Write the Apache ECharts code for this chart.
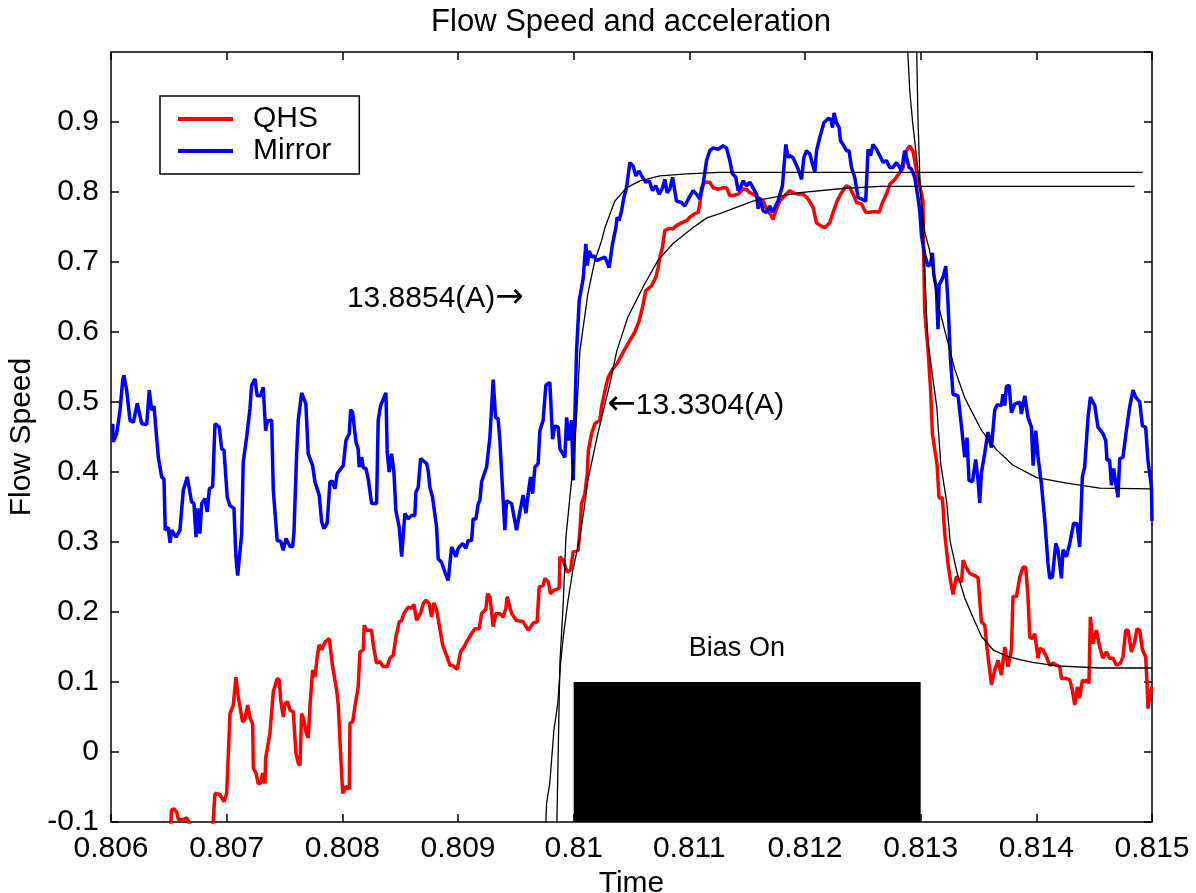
<!DOCTYPE html>
<html><head><meta charset="utf-8">
<script src="https://cdn.jsdelivr.net/npm/echarts@6/dist/echarts.min.js"></script>
<style>html,body{margin:0;padding:0;background:#fff}#c{width:1196px;height:893px}</style>
</head><body><div id="c"></div>
<script>
const FONT = '"Liberation Sans", Arial, Helvetica, sans-serif';
const xTickLabels = ['0.806','0.807','0.808','0.809','0.81','0.811','0.812','0.813','0.814','0.815'];
const yTickLabels = ['-0.1','0','0.1','0.2','0.3','0.4','0.5','0.6','0.7','0.8','0.9',''];
const seriesNames = ['QHS','Mirror'];

const mirrorData = [[0.806015,0.469],[0.80602,0.443],[0.806049,0.455],[0.806078,0.488],[0.806101,0.531],[0.806112,0.538],[0.806136,0.516],[0.806164,0.474],[0.806193,0.471],[0.806227,0.498],[0.806265,0.469],[0.806309,0.468],[0.806331,0.517],[0.806352,0.488],[0.806372,0.494],[0.806409,0.421],[0.806438,0.393],[0.806458,0.390],[0.806469,0.317],[0.806495,0.321],[0.80651,0.299],[0.806525,0.317],[0.806562,0.307],[0.806596,0.317],[0.806625,0.374],[0.806659,0.393],[0.806697,0.357],[0.806717,0.355],[0.806735,0.307],[0.806749,0.348],[0.806769,0.312],[0.806784,0.355],[0.806812,0.362],[0.806832,0.343],[0.80685,0.376],[0.806879,0.379],[0.806899,0.469],[0.806936,0.464],[0.806957,0.433],[0.806977,0.431],[0.807005,0.364],[0.807029,0.352],[0.807063,0.348],[0.80708,0.279],[0.807095,0.252],[0.80713,0.312],[0.807143,0.414],[0.807173,0.450],[0.807201,0.490],[0.807216,0.524],[0.807245,0.533],[0.807264,0.509],[0.807294,0.509],[0.807316,0.521],[0.807337,0.459],[0.807351,0.473],[0.807389,0.474],[0.807403,0.374],[0.807437,0.302],[0.807467,0.301],[0.807489,0.288],[0.807513,0.305],[0.807547,0.294],[0.80757,0.293],[0.807582,0.314],[0.807605,0.426],[0.807619,0.474],[0.807648,0.513],[0.807685,0.497],[0.807705,0.426],[0.807743,0.409],[0.807763,0.386],[0.8078,0.367],[0.807821,0.329],[0.807841,0.319],[0.807869,0.327],[0.807893,0.386],[0.807913,0.387],[0.807936,0.376],[0.807956,0.398],[0.808008,0.409],[0.808031,0.445],[0.80806,0.455],[0.808072,0.489],[0.808089,0.485],[0.808118,0.443],[0.808137,0.433],[0.808146,0.407],[0.808167,0.421],[0.808181,0.406],[0.808204,0.405],[0.808224,0.390],[0.808253,0.355],[0.808296,0.355],[0.80831,0.474],[0.808331,0.495],[0.808377,0.513],[0.808388,0.428],[0.808405,0.400],[0.808426,0.426],[0.808446,0.400],[0.808463,0.345],[0.808492,0.321],[0.808513,0.279],[0.808541,0.341],[0.80857,0.333],[0.808599,0.338],[0.808627,0.338],[0.808636,0.371],[0.808656,0.378],[0.808677,0.419],[0.808694,0.421],[0.808729,0.412],[0.808742,0.402],[0.808757,0.378],[0.80878,0.364],[0.808815,0.321],[0.808829,0.276],[0.808858,0.271],[0.808887,0.257],[0.808915,0.245],[0.808945,0.293],[0.808959,0.294],[0.808982,0.279],[0.809002,0.291],[0.80904,0.298],[0.809068,0.291],[0.809088,0.302],[0.809118,0.302],[0.809131,0.333],[0.809155,0.333],[0.809175,0.355],[0.809189,0.359],[0.809204,0.386],[0.809232,0.400],[0.809247,0.407],[0.809261,0.409],[0.809276,0.450],[0.809304,0.532],[0.809325,0.478],[0.809347,0.476],[0.809362,0.445],[0.809379,0.394],[0.809405,0.317],[0.80942,0.359],[0.809463,0.355],[0.809506,0.317],[0.809535,0.343],[0.809563,0.367],[0.809587,0.341],[0.809607,0.369],[0.809627,0.393],[0.809645,0.369],[0.809665,0.407],[0.809693,0.412],[0.809708,0.459],[0.809736,0.474],[0.80976,0.524],[0.809794,0.528],[0.809818,0.447],[0.809837,0.466],[0.809866,0.464],[0.809881,0.433],[0.809924,0.421],[0.809939,0.478],[0.809961,0.445],[0.809982,0.474],[0.809996,0.388],[0.810025,0.573],[0.810048,0.645],[0.810082,0.676],[0.810105,0.726],[0.810117,0.695],[0.810134,0.716],[0.810155,0.707],[0.810175,0.709],[0.810198,0.702],[0.810226,0.704],[0.81027,0.707],[0.810307,0.692],[0.810336,0.726],[0.810365,0.749],[0.810376,0.764],[0.810393,0.759],[0.810414,0.773],[0.810434,0.792],[0.810457,0.806],[0.810486,0.842],[0.810514,0.837],[0.810538,0.823],[0.810566,0.830],[0.810595,0.821],[0.810624,0.814],[0.810653,0.816],[0.810682,0.802],[0.81071,0.809],[0.810739,0.797],[0.810768,0.806],[0.810788,0.818],[0.810808,0.799],[0.810831,0.804],[0.810855,0.821],[0.810889,0.787],[0.810933,0.785],[0.810961,0.780],[0.810998,0.792],[0.811033,0.802],[0.811062,0.797],[0.811091,0.790],[0.811119,0.811],[0.811149,0.845],[0.811177,0.859],[0.811206,0.863],[0.811249,0.861],[0.811292,0.866],[0.811321,0.863],[0.81135,0.845],[0.811373,0.826],[0.811402,0.821],[0.811422,0.802],[0.811442,0.806],[0.811465,0.816],[0.811494,0.809],[0.811523,0.814],[0.811551,0.806],[0.811581,0.797],[0.811595,0.776],[0.811609,0.792],[0.811638,0.773],[0.811667,0.771],[0.811696,0.780],[0.811719,0.771],[0.811739,0.778],[0.811767,0.787],[0.811805,0.809],[0.811834,0.868],[0.811854,0.849],[0.811868,0.852],[0.811897,0.849],[0.81194,0.833],[0.81197,0.818],[0.81199,0.849],[0.812013,0.859],[0.812042,0.854],[0.812065,0.840],[0.812085,0.828],[0.8121,0.859],[0.812128,0.878],[0.812163,0.899],[0.8122,0.905],[0.812223,0.904],[0.812238,0.892],[0.812251,0.913],[0.812272,0.899],[0.812295,0.892],[0.812307,0.873],[0.812329,0.868],[0.812359,0.859],[0.812381,0.859],[0.812402,0.835],[0.81243,0.821],[0.812459,0.792],[0.812488,0.790],[0.812525,0.787],[0.812545,0.861],[0.812566,0.852],[0.812588,0.868],[0.812618,0.861],[0.812646,0.852],[0.812675,0.842],[0.812704,0.845],[0.812733,0.835],[0.812761,0.835],[0.812791,0.842],[0.812819,0.835],[0.812834,0.830],[0.812862,0.859],[0.812877,0.861],[0.8129,0.835],[0.81292,0.833],[0.812949,0.821],[0.812977,0.792],[0.812992,0.773],[0.813007,0.738],[0.813035,0.710],[0.813064,0.694],[0.813085,0.697],[0.813102,0.713],[0.813113,0.683],[0.813136,0.661],[0.81315,0.604],[0.813159,0.667],[0.813193,0.678],[0.813217,0.694],[0.813237,0.640],[0.813257,0.563],[0.81328,0.511],[0.813323,0.509],[0.813353,0.465],[0.813381,0.421],[0.813401,0.449],[0.813418,0.388],[0.813448,0.386],[0.813476,0.418],[0.813496,0.388],[0.813511,0.356],[0.813525,0.399],[0.813554,0.427],[0.813582,0.457],[0.813612,0.435],[0.81364,0.488],[0.81366,0.496],[0.813698,0.495],[0.813712,0.511],[0.813727,0.495],[0.813741,0.522],[0.813764,0.524],[0.813785,0.485],[0.813813,0.497],[0.813857,0.500],[0.813871,0.483],[0.8139,0.509],[0.813928,0.478],[0.813958,0.464],[0.813972,0.409],[0.813995,0.459],[0.814015,0.421],[0.814044,0.383],[0.814073,0.331],[0.814101,0.269],[0.814116,0.248],[0.814139,0.250],[0.814168,0.298],[0.814188,0.288],[0.814217,0.248],[0.814231,0.289],[0.81426,0.279],[0.814289,0.298],[0.814323,0.327],[0.814352,0.326],[0.814375,0.293],[0.814398,0.393],[0.814418,0.407],[0.814447,0.478],[0.814467,0.507],[0.814505,0.495],[0.814533,0.464],[0.814576,0.455],[0.8146,0.445],[0.814611,0.417],[0.814634,0.417],[0.814649,0.381],[0.814669,0.405],[0.814692,0.378],[0.814706,0.364],[0.814721,0.419],[0.814749,0.421],[0.814778,0.459],[0.814807,0.493],[0.814836,0.517],[0.814859,0.507],[0.814894,0.500],[0.814917,0.466],[0.814945,0.464],[0.814965,0.417],[0.814995,0.378],[0.815,0.330]];

const qhsData = [[0.806514,-0.111],[0.806523,-0.083],[0.806545,-0.081],[0.806568,-0.086],[0.806582,-0.096],[0.806622,-0.097],[0.806654,-0.094],[0.806674,-0.100],[0.8067,-0.111],[0.806856,-0.126],[0.806884,-0.098],[0.806899,-0.059],[0.806942,-0.061],[0.806977,-0.071],[0.807,-0.059],[0.807016,-0.058],[0.807029,0.055],[0.807057,0.067],[0.80708,0.107],[0.8071,0.079],[0.807115,0.077],[0.807138,0.043],[0.807158,0.046],[0.807181,0.067],[0.807201,0.050],[0.807225,0.039],[0.80723,-0.023],[0.807253,-0.030],[0.807273,-0.045],[0.807294,-0.045],[0.807311,-0.030],[0.807331,-0.045],[0.807337,-0.009],[0.807374,0.027],[0.807403,0.086],[0.807437,0.105],[0.807455,0.103],[0.807467,0.074],[0.807489,0.050],[0.807504,0.069],[0.807527,0.072],[0.807547,0.060],[0.807576,0.057],[0.807599,-0.002],[0.807619,-0.016],[0.807634,-0.019],[0.807648,0.055],[0.807668,0.046],[0.807685,0.029],[0.807705,0.020],[0.80772,0.065],[0.807743,0.117],[0.807763,0.107],[0.807783,0.136],[0.8078,0.153],[0.807821,0.146],[0.80785,0.157],[0.807887,0.162],[0.807916,0.122],[0.807951,0.088],[0.807965,0.067],[0.807985,-0.002],[0.808003,-0.059],[0.808031,-0.049],[0.80806,-0.053],[0.808066,0.041],[0.808089,0.043],[0.808109,0.065],[0.808137,0.093],[0.808152,0.143],[0.808181,0.146],[0.808189,0.181],[0.80821,0.174],[0.808253,0.174],[0.808267,0.153],[0.808296,0.127],[0.808325,0.129],[0.808353,0.122],[0.808388,0.122],[0.808411,0.134],[0.80844,0.138],[0.808463,0.164],[0.808492,0.186],[0.808513,0.188],[0.808532,0.198],[0.80857,0.207],[0.808599,0.205],[0.808619,0.211],[0.808642,0.188],[0.808677,0.198],[0.808699,0.212],[0.808723,0.217],[0.808751,0.212],[0.808772,0.193],[0.808792,0.213],[0.808815,0.203],[0.808838,0.181],[0.808867,0.153],[0.808901,0.138],[0.80893,0.124],[0.808959,0.123],[0.808993,0.118],[0.809022,0.143],[0.809045,0.148],[0.809074,0.157],[0.809109,0.167],[0.809146,0.176],[0.809183,0.176],[0.809204,0.198],[0.809241,0.204],[0.809256,0.226],[0.809276,0.222],[0.809304,0.179],[0.809328,0.198],[0.809356,0.198],[0.809391,0.193],[0.809414,0.205],[0.809425,0.222],[0.809463,0.198],[0.809506,0.188],[0.809563,0.186],[0.809607,0.174],[0.80965,0.184],[0.809684,0.186],[0.809702,0.236],[0.809736,0.238],[0.809751,0.248],[0.80978,0.243],[0.8098,0.226],[0.809829,0.231],[0.809875,0.234],[0.809881,0.279],[0.809909,0.274],[0.809944,0.257],[0.809973,0.260],[0.809996,0.286],[0.810039,0.288],[0.810054,0.317],[0.810068,0.355],[0.810097,0.369],[0.810117,0.398],[0.810127,0.431],[0.810155,0.455],[0.810183,0.469],[0.810226,0.474],[0.810241,0.493],[0.81027,0.516],[0.810298,0.535],[0.810336,0.547],[0.810376,0.555],[0.810434,0.573],[0.810486,0.588],[0.810529,0.600],[0.810566,0.616],[0.810595,0.635],[0.810624,0.659],[0.810673,0.666],[0.81071,0.678],[0.81073,0.692],[0.810745,0.707],[0.810768,0.721],[0.810788,0.745],[0.810825,0.748],[0.810855,0.747],[0.810889,0.752],[0.810933,0.756],[0.810976,0.759],[0.811004,0.764],[0.811047,0.769],[0.811076,0.771],[0.811091,0.783],[0.811105,0.806],[0.811134,0.814],[0.811177,0.814],[0.811206,0.806],[0.811249,0.804],[0.811292,0.806],[0.811321,0.806],[0.81135,0.795],[0.811379,0.795],[0.811422,0.797],[0.81146,0.804],[0.811494,0.804],[0.811523,0.799],[0.811551,0.797],[0.811595,0.792],[0.811638,0.787],[0.811667,0.776],[0.811702,0.768],[0.811724,0.761],[0.811754,0.776],[0.811782,0.787],[0.811825,0.795],[0.811869,0.802],[0.811897,0.799],[0.81194,0.797],[0.811984,0.797],[0.812027,0.790],[0.81207,0.778],[0.812099,0.756],[0.812134,0.752],[0.812171,0.749],[0.812214,0.756],[0.812243,0.771],[0.812277,0.787],[0.812315,0.799],[0.812359,0.809],[0.812387,0.806],[0.812422,0.795],[0.812445,0.785],[0.812488,0.783],[0.812525,0.771],[0.81256,0.771],[0.812603,0.772],[0.81264,0.771],[0.81267,0.785],[0.812704,0.797],[0.812733,0.811],[0.812776,0.818],[0.812819,0.828],[0.812848,0.835],[0.812877,0.859],[0.812906,0.866],[0.812934,0.858],[0.812963,0.831],[0.812992,0.809],[0.81302,0.787],[0.813026,0.710],[0.813035,0.629],[0.813064,0.574],[0.813085,0.519],[0.813102,0.454],[0.813122,0.432],[0.813142,0.410],[0.813159,0.363],[0.813188,0.363],[0.813208,0.312],[0.813237,0.268],[0.813257,0.246],[0.81328,0.225],[0.813309,0.251],[0.813332,0.245],[0.813353,0.243],[0.813367,0.274],[0.81339,0.265],[0.813424,0.255],[0.813467,0.252],[0.813496,0.249],[0.813525,0.186],[0.813554,0.181],[0.813574,0.148],[0.813612,0.096],[0.81364,0.117],[0.813669,0.131],[0.813698,0.110],[0.813727,0.150],[0.813755,0.122],[0.813785,0.146],[0.813798,0.222],[0.813828,0.222],[0.813857,0.250],[0.813885,0.264],[0.813908,0.264],[0.813928,0.222],[0.813943,0.164],[0.813966,0.162],[0.813986,0.169],[0.814015,0.134],[0.814029,0.148],[0.814058,0.146],[0.814087,0.136],[0.814116,0.124],[0.814144,0.127],[0.814174,0.124],[0.814202,0.122],[0.814217,0.105],[0.81426,0.105],[0.814289,0.103],[0.814312,0.088],[0.814332,0.067],[0.814355,0.093],[0.814375,0.077],[0.814398,0.103],[0.814418,0.100],[0.814438,0.103],[0.814455,0.098],[0.814467,0.193],[0.81449,0.155],[0.814519,0.174],[0.814548,0.150],[0.814576,0.134],[0.814606,0.143],[0.814634,0.134],[0.814663,0.134],[0.814692,0.124],[0.814727,0.127],[0.814749,0.136],[0.814773,0.174],[0.814793,0.174],[0.814822,0.143],[0.81485,0.157],[0.81487,0.176],[0.814894,0.174],[0.814917,0.146],[0.814945,0.136],[0.814957,0.098],[0.814965,0.062],[0.814986,0.084],[0.815,0.093]];

// fitted curves (black)
const mirrorRiseFit = [[0.809846,-0.13],[0.809855,-0.10],[0.809881,0.127],[0.80991,0.213],[0.809933,0.307],[0.809982,0.388],[0.810025,0.478],[0.810054,0.573],[0.810123,0.655],[0.810183,0.702],[0.810241,0.730],[0.81027,0.749],[0.810356,0.787],[0.810457,0.806],[0.810572,0.816],[0.810745,0.823],[0.810976,0.826],[0.811264,0.828],[0.814919,0.828]];
const qhsRiseFit = [[0.809751,-0.126],[0.80976,-0.098],[0.809766,-0.073],[0.809794,-0.044],[0.809829,0.031],[0.809863,0.070],[0.809887,0.127],[0.80991,0.164],[0.809948,0.213],[0.809993,0.260],[0.810054,0.307],[0.810097,0.355],[0.810123,0.388],[0.810209,0.455],[0.810313,0.526],[0.810373,0.573],[0.810468,0.621],[0.810615,0.669],[0.810728,0.702],[0.810857,0.726],[0.81103,0.749],[0.811151,0.763],[0.811264,0.769],[0.811549,0.787],[0.811955,0.799],[0.812327,0.805],[0.812646,0.808],[0.81485,0.808]];
const mirrorDecayFit = [[0.81288,1.02],[0.812889,0.999],[0.812906,0.944],[0.812929,0.902],[0.812977,0.831],[0.813035,0.743],[0.813078,0.716],[0.81315,0.640],[0.813294,0.547],[0.813381,0.506],[0.813424,0.492],[0.813528,0.459],[0.813655,0.432],[0.813796,0.410],[0.814003,0.392],[0.814263,0.384],[0.814548,0.377],[0.814998,0.376]];
const qhsDecayFit = [[0.812962,1.02],[0.812966,0.999],[0.812977,0.902],[0.812992,0.826],[0.81302,0.738],[0.81305,0.629],[0.813061,0.588],[0.81314,0.492],[0.813174,0.411],[0.813226,0.356],[0.813255,0.301],[0.813313,0.257],[0.813381,0.220],[0.813453,0.192],[0.813526,0.165],[0.813626,0.146],[0.813742,0.137],[0.813857,0.132],[0.813969,0.128],[0.814176,0.123],[0.814548,0.120],[0.814998,0.120]];

// bias-on interval and annotations
const biasInterval = [0.810, 0.813];
const biasLevels = [-0.1, 0.1];
const biasLabel = {text: 'Bias On', x: 0.811411, y: 0.148};
const annotations = [
  {text: '13.8854(A)', arrow: '\u2192', x: 0.809569, y: 0.648, side: 'left'},
  {text: '13.3304(A)', arrow: '\u2190', x: 0.810290, y: 0.495, side: 'right'}
];

const chart = echarts.init(document.getElementById('c'), null, {renderer: 'canvas'});
const axisCommon = {
  type: 'value', min: 0.806, max: 0.815, interval: 0.001,
  axisLine: {show: true, onZero: false, lineStyle: {color: '#000', width: 1.5}},
  axisTick: {show: true, inside: true, length: 8, lineStyle: {color: '#000', width: 1.5}},
  splitLine: {show: false}
};
const yCommon = {
  type: 'value', min: -0.1, max: 1.0, interval: 0.1,
  axisLine: {show: true, onZero: false, lineStyle: {color: '#000', width: 1.5}},
  axisTick: {show: true, inside: true, length: 8, lineStyle: {color: '#000', width: 1.5}},
  splitLine: {show: false}
};
const fitStyle = {type: 'line', xAxisIndex: 0, yAxisIndex: 0, showSymbol: false, symbol: 'none',
  lineStyle: {color: '#000', width: 1.3}, itemStyle: {color: '#000'}, z: 4, silent: true};
const richText = {
  t: {fontSize: 30, fontFamily: FONT, color: '#000'},
  a: {fontSize: 34, fontFamily: '"DejaVu Sans", sans-serif', color: '#000'}
};

chart.setOption({
  animation: false,
  backgroundColor: '#fff',
  textStyle: {fontFamily: FONT},
  grid: {left: 111, right: 44, top: 52, bottom: 71, containLabel: false, outerBoundsMode: 'none'},
  graphic: [{type: 'text', x: 631, y: 22, style: {text: 'Flow Speed and acceleration', fill: '#000',
    font: '31px ' + FONT, textAlign: 'center', textVerticalAlign: 'middle'}}],
  legend: {
    data: seriesNames.map(n => ({name: n, icon: 'rect'})),
    orient: 'vertical', left: 160, top: 96, itemWidth: 55, itemHeight: 4, itemGap: 2,
    padding: [8, 28, 8, 18], borderColor: '#000', borderWidth: 1.5, backgroundColor: '#fff',
    textStyle: {fontSize: 30, color: '#000', fontFamily: FONT, padding: [0, 0, 0, 15]}, selectedMode: false
  },
  xAxis: [
    Object.assign({}, axisCommon, {position: 'bottom', name: 'Time', nameLocation: 'middle', nameGap: 42,
      nameTextStyle: {fontSize: 30, color: '#000', fontFamily: FONT},
      axisLabel: {show: true, color: '#000', fontSize: 30, fontFamily: FONT, margin: 12,
        formatter: v => xTickLabels[Math.round((v - 0.806) / 0.001)] || ''}}),
    Object.assign({}, axisCommon, {position: 'top', axisLabel: {show: false}})
  ],
  yAxis: [
    Object.assign({}, yCommon, {position: 'left', name: 'Flow Speed', nameLocation: 'middle', nameGap: 61,
      nameTextStyle: {fontSize: 30, color: '#000', fontFamily: FONT},
      axisLabel: {show: true, color: '#000', fontSize: 30, fontFamily: FONT, margin: 12, showMaxLabel: false,
        formatter: v => yTickLabels[Math.round((v + 0.1) / 0.1)] || ''}}),
    Object.assign({}, yCommon, {position: 'right', axisLabel: {show: false}})
  ],
  series: [
    {name: 'QHS', type: 'line', data: qhsData, showSymbol: false, symbol: 'none', z: 2,
      lineStyle: {color: '#ff0000', width: 3.5}, itemStyle: {color: '#ff0000'}},
    {name: 'Mirror', type: 'line', data: mirrorData, showSymbol: false, symbol: 'none', z: 3,
      lineStyle: {color: '#0000ff', width: 3.5}, itemStyle: {color: '#0000ff'}},
    Object.assign({}, fitStyle, {name: 'mirrorRiseFit', data: mirrorRiseFit,
      markArea: {silent: true, itemStyle: {color: '#000', opacity: 1}, label: {show: false},
        data: [[{coord: [biasInterval[0], biasLevels[0]]}, {coord: [biasInterval[1], biasLevels[1]]}]]},
      markPoint: {symbol: 'circle', symbolSize: 0, silent: true, animation: false,
        data: [{coord: [biasLabel.x, biasLabel.y], value: biasLabel.text,
          label: {show: true, position: 'inside', formatter: biasLabel.text, color: '#000', fontSize: 27, fontFamily: FONT}}]
          .concat(annotations.map(a => ({coord: [a.x, a.y], value: a.text,
            label: {show: true, position: a.side, distance: 0, rich: richText,
              formatter: a.side === 'left' ? '{t|' + a.text + '}{a|' + a.arrow + '}' : '{a|' + a.arrow + '}{t|' + a.text + '}'}})))}}),
    Object.assign({}, fitStyle, {name: 'qhsRiseFit', data: qhsRiseFit}),
    Object.assign({}, fitStyle, {name: 'mirrorDecayFit', data: mirrorDecayFit}),
    Object.assign({}, fitStyle, {name: 'qhsDecayFit', data: qhsDecayFit})
  ]
});
</script></body></html>
